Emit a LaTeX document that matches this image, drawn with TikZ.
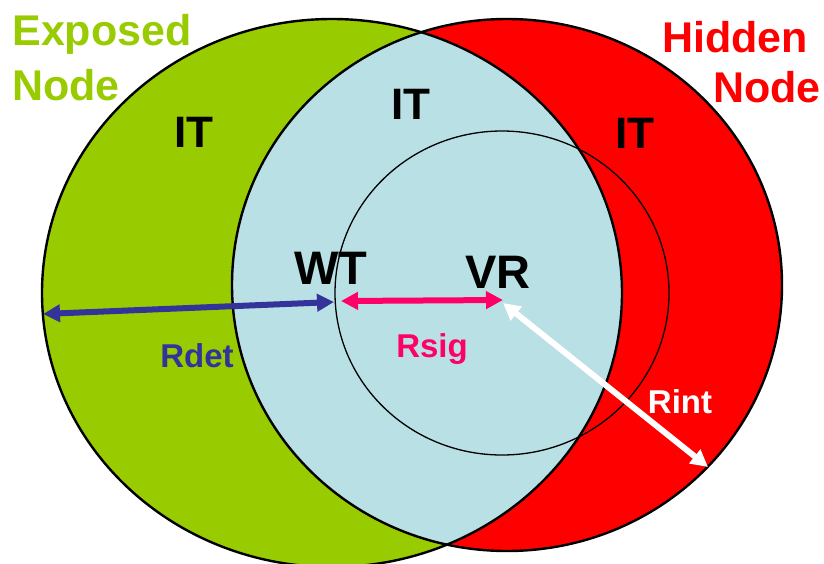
\documentclass[tikz,border=0pt]{standalone}
\usepackage{fontspec}
\setmainfont{Liberation Sans}
\usetikzlibrary{arrows.meta}

\definecolor{exposedgreen}{HTML}{99CC00}
\definecolor{hiddenred}{HTML}{FF0000}
\definecolor{overlapblue}{HTML}{B9E0E4}
\definecolor{detblue}{HTML}{333399}
\definecolor{sigpink}{HTML}{FF0066}

\tikzset{
  rangeline/.style={draw=black, line width=2.4pt},
  innerline/.style={draw=black, line width=1.3pt},
  biglabel/.style={font=\bfseries\fontsize{43}{43}\selectfont, anchor=base, inner sep=0pt},
  zonelabel/.style={font=\bfseries\fontsize{44}{44}\selectfont, anchor=base, inner sep=0pt, text=black},
  radiuslabel/.style={font=\bfseries\fontsize{33}{33}\selectfont, anchor=base, inner sep=0pt},
  dimarrow/.style={line width=6pt, {Triangle[length=17pt,width=17pt]}-{Triangle[length=17pt,width=17pt]}},
}

\begin{document}
\begin{tikzpicture}[x=1pt, y=-1pt]
  \useasboundingbox (0,0) rectangle (824,563);
  \clip (0,0) rectangle (824,563);
  \fill[white] (0,0) rectangle (824,563);

  % the two detection ranges
  \fill[exposedgreen] (332,293) ellipse [x radius=290pt, y radius=274pt];
  \fill[hiddenred] (507,285) ellipse [x radius=275pt, y radius=266pt];
  % their overlap
  \begin{scope}
    \clip (332,293) ellipse [x radius=290pt, y radius=274pt];
    \fill[overlapblue] (507,285) ellipse [x radius=275pt, y radius=266pt];
  \end{scope}
  \draw[rangeline] (332,293) ellipse [x radius=290pt, y radius=274pt];
  \draw[rangeline] (507,285) ellipse [x radius=275pt, y radius=266pt];

  % interference range of the receiver
  \draw[innerline] (502,293) ellipse [x radius=167pt, y radius=162pt];

  % labels
  \node[biglabel, text=exposedgreen] (exposed) at (102,45) {Exposed};
  \node[biglabel, text=exposedgreen] (exposednode) at (66,100) {Node};
  \node[biglabel, text=hiddenred] (hidden) at (735,52) {Hidden};
  \node[biglabel, text=hiddenred] (hiddennode) at (767,102) {Node};

  \node[zonelabel] (itleft) at (194,147) {IT};
  \node[zonelabel] (itmid) at (411,119) {IT};
  \node[zonelabel] (itright) at (635,148) {IT};
  \node[zonelabel, font=\bfseries\fontsize{47}{47}\selectfont] (wt) at (331,284) {WT};
  \node[zonelabel, font=\bfseries\fontsize{47}{47}\selectfont] (vr) at (498,288) {VR};

  % radius end points
  \coordinate (detleft) at (43,314);
  \coordinate (detright) at (334,302);
  \coordinate (sigleft) at (341,301);
  \coordinate (sigright) at (503,300);
  \coordinate (intstart) at (503,303);
  \coordinate (intend) at (708,467);

  \draw[dimarrow, detblue] (detleft) -- (detright);
  \draw[dimarrow, sigpink] (sigleft) -- (sigright);
  \draw[dimarrow, white] (intstart) -- (intend);

  \node[radiuslabel, text=detblue] (rdet) at (197,367) {Rdet};
  \node[radiuslabel, text=sigpink] (rsig) at (432,357) {Rsig};
  \node[radiuslabel, text=white] (rint) at (680,413) {Rint};
\end{tikzpicture}
\end{document}
